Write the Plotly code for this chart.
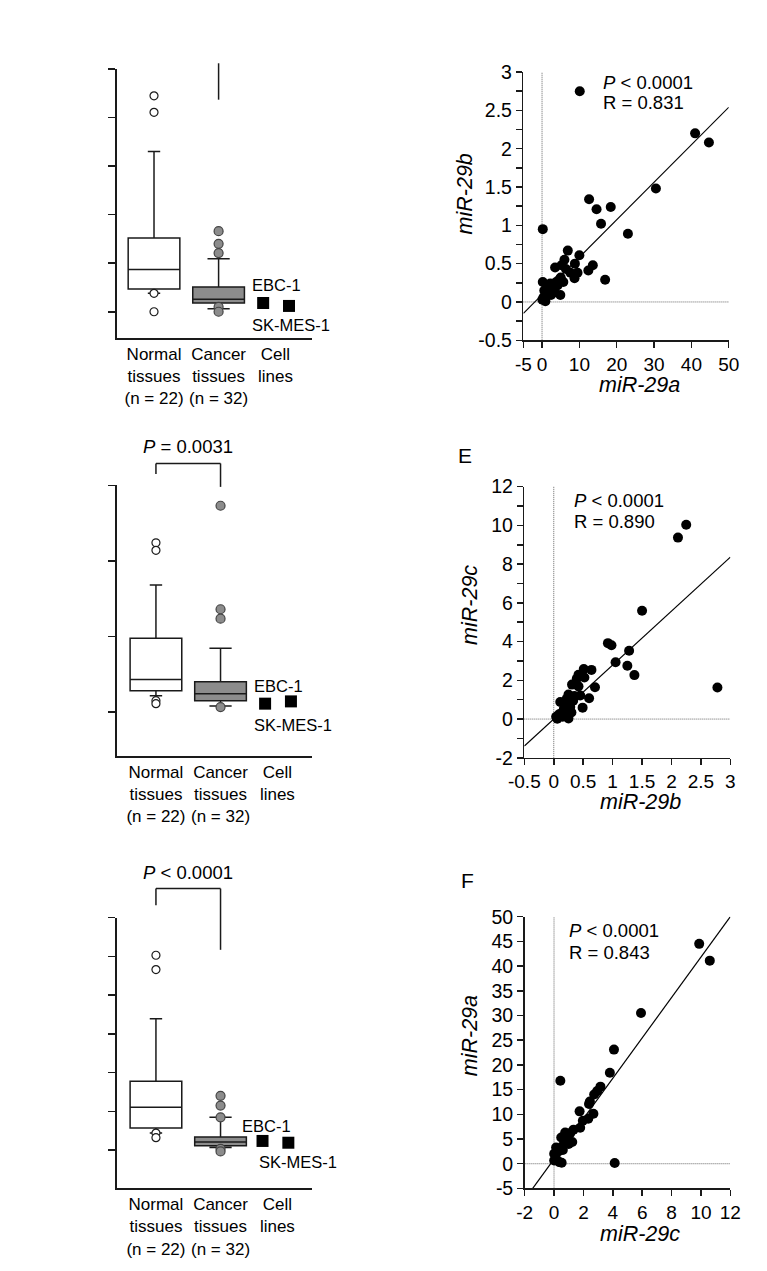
import plotly.graph_objects as go

# The page body keeps the browser's default 8px margin, so the figure is sized to fit.
PAGE_W, PAGE_H = 767, 1271
BODY_MARGIN = 8
W, H = PAGE_W - 2 * BODY_MARGIN, PAGE_H - 2 * BODY_MARGIN
FONT = "Liberation Sans, Arial, Helvetica, sans-serif"
INK = "#1a1a1a"
GRAY_FILL = "#8c8c8c"

# ---------------- Box-plot panels (left column) ----------------
categories = ["Normal<br>tissues<br>(n = 22)", "Cancer<br>tissues<br>(n = 32)", "Cell<br>lines"]
category_pos = [0, 1, 1.88]
cell_line_names = ["EBC-1", "SK-MES-1"]

# Panel A
a_normal = dict(q1=0.47, median=0.87, q3=1.52, lowerfence=0.38, upperfence=3.30)
a_normal_out = [4.45, 4.11, 0.38, 0.0]
a_cancer = dict(q1=0.18, median=0.26, q3=0.51, lowerfence=0.06, upperfence=1.09)
a_cancer_out = [1.66, 1.40, 1.21, 0.10, 0.0]
a_cell_x = [1.69, 2.09]
a_cell_y = [0.18, 0.12]
a_yticks = [0, 1, 2, 3, 4, 5]

# Panel B
b_normal = dict(q1=0.28, median=0.43, q3=0.975, lowerfence=0.216, upperfence=1.68)
b_normal_out = [2.24, 2.14, 0.15, 0.11]
b_cancer = dict(q1=0.15, median=0.24, q3=0.40, lowerfence=0.08, upperfence=0.845)
b_cancer_out = [2.73, 1.36, 1.235, 0.065]
b_cell_x = [1.69, 2.09]
b_cell_y = [0.11, 0.14]
b_yticks = [0, 1, 2, 3]
b_pvalue = "<i>P</i> = 0.0031"

# Panel C
c_normal = dict(q1=0.573, median=1.106, q3=1.775, lowerfence=0.44, upperfence=3.39)
c_normal_out = [5.03, 4.66, 0.44, 0.32]
c_cancer = dict(q1=0.109, median=0.21, q3=0.337, lowerfence=0.066, upperfence=0.845)
c_cancer_out = [1.40, 1.15, 0.845, 0.033, -0.035]
c_cell_x = [1.65, 2.05]
c_cell_y = [0.236, 0.19]
c_yticks = [0, 1, 2, 3, 4, 5, 6]
c_pvalue = "<i>P</i> < 0.0001"

# ---------------- Scatter panels (right column) ----------------
# D: miR-29a (x) vs miR-29b (y)
d_x = [10.1, 41.0, 44.7, 30.5, 12.6, 14.6, 18.4, 15.8, 23.0, 0.2,
       6.9, 10.0, 6.0, 8.8, 12.4, 13.6, 16.9, 3.5, 5.2, 6.4, 7.6, 8.7, 9.5,
       0.2, 2.0, 2.8, 3.8, 4.6, 5.7, 4.9, 3.0, 1.2, 0.4, 0.9, 0.1, 1.6, 2.4,
       3.4, 0.6, 1.0, 4.2, 2.2, 5.0]
d_y = [2.75, 2.20, 2.08, 1.48, 1.34, 1.21, 1.24, 1.02, 0.89, 0.95,
       0.67, 0.61, 0.55, 0.50, 0.41, 0.48, 0.29, 0.45, 0.48, 0.43, 0.38, 0.31, 0.38,
       0.26, 0.16, 0.21, 0.26, 0.29, 0.26, 0.09, 0.12, 0.13, 0.06, 0.01, 0.03, 0.19, 0.09,
       0.18, 0.15, 0.08, 0.22, 0.24, 0.32]
d_fit_x = [-5, 50]
d_fit_y = [-0.15, 2.54]
d_xticks = [-5, 0, 10, 20, 30, 40, 50]
d_yticks = [-0.5, 0, 0.5, 1, 1.5, 2, 2.5, 3]
d_stats = ["<i>P</i> < 0.0001", "R = 0.831"]

# E: miR-29b (x) vs miR-29c (y)
e_x = [2.25, 2.11, 1.50, 0.92, 0.98, 1.28, 1.05, 1.25, 1.37, 2.78, 0.70, 0.60,
       0.64, 0.51, 0.52, 0.42, 0.39, 0.31, 0.42, 0.45, 0.49, 0.35, 0.25, 0.22,
       0.11, 0.24, 0.30, 0.25, 0.17, 0.09, 0.04, 0.15, 0.20, 0.06, 0.28, 0.13,
       0.33, 0.18]
e_y = [10.03, 9.37, 5.59, 3.92, 3.81, 3.53, 2.93, 2.75, 2.27, 1.63, 1.64, 1.08,
       2.54, 2.58, 2.15, 2.29, 2.08, 1.78, 1.69, 1.22, 0.59, 1.19, 1.27, 1.05,
       0.88, 0.71, 0.34, 0.03, 0.51, 0.25, 0.12, 0.12, 0.34, 0.02, 0.62, 0.30,
       0.95, 0.80]
e_fit_x = [-0.5, 3]
e_fit_y = [-1.39, 8.36]
e_xticks = [-0.5, 0, 0.5, 1, 1.5, 2, 2.5, 3]
e_yticks = [-2, 0, 2, 4, 6, 8, 10, 12]
e_stats = ["<i>P</i> < 0.0001", "R = 0.890"]

# F: miR-29c (x) vs miR-29a (y)
f_x = [9.88, 10.6, 5.92, 4.08, 3.80, 0.43, 3.16, 2.94, 2.73, 2.44, 2.38, 1.74,
       2.68, 2.33, 1.96, 1.78, 1.33, 1.11, 1.24, 0.80, 0.49, 0.71, 0.14, 0.58,
       0.01, 0.14, 0.01, 0.36, 0.52, 4.13, 0.76, 0.91, 1.0, 0.3, 0.6]
f_y = [44.5, 41.1, 30.5, 23.1, 18.4, 16.8, 15.6, 14.7, 14.0, 12.6, 12.1, 10.6,
       10.1, 9.1, 8.7, 7.3, 6.9, 6.2, 4.4, 4.6, 5.3, 5.3, 3.3, 3.6,
       2.0, 1.0, 0.66, 0.33, 0.2, 0.13, 6.3, 5.6, 4.0, 2.5, 2.8]
f_fit_x = [-1.45, 12]
f_fit_y = [-5, 50]
f_xticks = [-2, 0, 2, 4, 6, 8, 10, 12]
f_yticks = [-5, 0, 5, 10, 15, 20, 25, 30, 35, 40, 45, 50]
f_stats = ["<i>P</i> < 0.0001", "R = 0.843"]


def fmt(v):
    return "%g" % v


def px_x(p):
    return (p - BODY_MARGIN) / W


def px_y(p):
    return 1 - (p - BODY_MARGIN) / H


# Layout geometry (page-pixel bounds of each plot area)
box_panels = [
    dict(ax="", dom_x=(104, 307), dom_y=(333, 59), xr=[-0.58, 2.45], yr=[-0.547, 5],
         normal=a_normal, nout=a_normal_out, cancer=a_cancer, cout=a_cancer_out,
         cx=a_cell_x, cy=a_cell_y, yt=a_yticks, lab=[(1.48, 0.55), (1.48, -0.28)],
         ncap=0.24, ccap=0.43),
    dict(ax="3", dom_x=(104, 307), dom_y=(758.3, 482.7), xr=[-0.61, 2.42], yr=[-0.585, 3],
         normal=b_normal, nout=b_normal_out, cancer=b_cancer, cout=b_cancer_out,
         cx=b_cell_x, cy=b_cell_y, yt=b_yticks, lab=[(1.49, 0.35), (1.49, -0.17)],
         ncap=0.24, ccap=0.43),
    dict(ax="5", dom_x=(104, 307), dom_y=(1198.3, 922.7), xr=[-0.61, 2.42], yr=[-0.99, 6],
         normal=c_normal, nout=c_normal_out, cancer=c_cancer, cout=c_cancer_out,
         cx=c_cell_x, cy=c_cell_y, yt=c_yticks, lab=[(1.30, 0.62), (1.57, -0.31)],
         ncap=0.24, ccap=0.43),
]

scatter_panels = [
    dict(ax="2", dom_x=(526, 739), dom_y=(335, 62), xr=[-5, 50], yr=[-0.5, 3],
         x=d_x, y=d_y, fx=d_fit_x, fy=d_fit_y, xt=d_xticks, yt=d_yticks, ydt=0.25,
         stats=d_stats, spos=[(15.9, 2.87), (15.9, 2.60)],
         xtitle="<i>miR-29a</i>", ytitle="<i>miR-29b</i>", xtp=(646, 381), ytp=(465, 186),
         letter=None),
    dict(ax="4", dom_x=(527, 740.7), dom_y=(760, 484), xr=[-0.5, 3], yr=[-2, 12],
         x=e_x, y=e_y, fx=e_fit_x, fy=e_fit_y, xt=e_xticks, yt=e_yticks, ydt=1,
         stats=e_stats, spos=[(0.31, 11.3), (0.31, 10.18)],
         xtitle="<i>miR-29b</i>", ytitle="<i>miR-29c</i>", xtp=(647, 805), ytp=(470, 604),
         letter=("E", 465, 452)),
    dict(ax="6", dom_x=(527.3, 740.7), dom_y=(1198.3, 921.7), xr=[-2, 12], yr=[-5, 50],
         x=f_x, y=f_y, fx=f_fit_x, fy=f_fit_y, xt=f_xticks, yt=f_yticks, ydt=None,
         stats=f_stats, spos=[(0.91, 47.2), (0.91, 42.7)],
         xtitle="<i>miR-29c</i>", ytitle="<i>miR-29a</i>", xtp=(647, 1245), ytp=(470, 1043),
         letter=("F", 468, 885)),
]

fig = go.Figure()
layout = dict(
    width=W, height=H, autosize=False,
    margin=dict(l=0, r=0, t=0, b=0, pad=0),
    paper_bgcolor="white", plot_bgcolor="white",
    font=dict(family=FONT, color="black", size=17),
    showlegend=False,
)
annotations = []
shapes = []

axis_common = dict(showgrid=False, zeroline=False, showline=True, linecolor=INK,
                   linewidth=1.5, tickcolor=INK, tickwidth=1.5, fixedrange=True)

for p in box_panels:
    xa = "x" + p["ax"]
    ya = "y" + p["ax"]
    dom_x = [px_x(p["dom_x"][0]), px_x(p["dom_x"][1])]
    dom_y = [px_y(p["dom_y"][0]), px_y(p["dom_y"][1])]
    layout["xaxis" + p["ax"]] = dict(
        axis_common, domain=dom_x, range=p["xr"], anchor=ya, ticks="",
        tickmode="array", tickvals=category_pos, ticktext=categories,
        tickfont=dict(size=17, family=FONT, color="black"))
    layout["yaxis" + p["ax"]] = dict(
        axis_common, domain=dom_y, range=p["yr"], anchor=xa, ticks="outside",
        ticklen=7, tickmode="array", tickvals=p["yt"], showticklabels=False)
    p["_dom_x"], p["_dom_y"] = dom_x, dom_y

    for pos, st, fill, cap in [(category_pos[0], p["normal"], "white", p["ncap"]),
                               (category_pos[1], p["cancer"], GRAY_FILL, p["ccap"])]:
        fig.add_trace(go.Box(
            x=[pos], q1=[st["q1"]], median=[st["median"]], q3=[st["q3"]],
            lowerfence=[st["lowerfence"]], upperfence=[st["upperfence"]],
            orientation="v", width=0.8, whiskerwidth=cap, fillcolor=fill,
            line=dict(color=INK, width=1.5), boxpoints=False,
            xaxis=xa, yaxis=ya, hoverinfo="skip"))
    fig.add_trace(go.Scatter(
        x=[category_pos[0]] * len(p["nout"]), y=p["nout"], mode="markers",
        marker=dict(symbol="circle", size=8, color="white", line=dict(color=INK, width=1.2)),
        xaxis=xa, yaxis=ya, cliponaxis=False, hoverinfo="skip"))
    fig.add_trace(go.Scatter(
        x=[category_pos[1]] * len(p["cout"]), y=p["cout"], mode="markers",
        marker=dict(symbol="circle", size=9, color=GRAY_FILL, line=dict(color="#444", width=1.2)),
        xaxis=xa, yaxis=ya, cliponaxis=False, hoverinfo="skip"))
    fig.add_trace(go.Scatter(
        x=p["cx"], y=p["cy"], mode="markers",
        marker=dict(symbol="square", size=12, color="black"),
        xaxis=xa, yaxis=ya, cliponaxis=False, hoverinfo="skip"))
    for name, (lx, ly) in zip(cell_line_names, p["lab"]):
        annotations.append(dict(text=name, x=lx, y=ly, xref=xa, yref=ya,
                                xanchor="left", yanchor="middle", showarrow=False,
                                font=dict(size=16.5, family=FONT, color="black")))


def to_paper(p, xv, yv):
    dx, dy = p["_dom_x"], p["_dom_y"]
    xr, yr = p["xr"], p["yr"]
    px = dx[0] + (xv - xr[0]) / (xr[1] - xr[0]) * (dx[1] - dx[0])
    py = dy[0] + (yv - yr[0]) / (yr[1] - yr[0]) * (dy[1] - dy[0])
    return px, py


def bracket_line(p, xa_, ya_, xb_, yb_):
    x0, y0 = to_paper(p, xa_, ya_)
    x1, y1 = to_paper(p, xb_, yb_)
    shapes.append(dict(type="line", xref="paper", yref="paper", x0=x0, y0=y0, x1=x1, y1=y1,
                       line=dict(color=INK, width=1.5)))


def pvalue_text(p, text, xv, yv):
    x0, y0 = to_paper(p, xv, yv)
    annotations.append(dict(text=text, x=x0, y=y0, xref="paper", yref="paper", showarrow=False,
                            xanchor="center", yanchor="middle",
                            font=dict(size=18.5, family=FONT, color="black")))


# Panel A: only the right leg of the (cropped) bracket is visible
bracket_line(box_panels[0], 1, 5.12, 1, 4.37)
# Panel B bracket
bracket_line(box_panels[1], 0, 3.29, 1, 3.29)
bracket_line(box_panels[1], 0, 3.29, 0, 3.15)
bracket_line(box_panels[1], 1, 3.29, 1, 2.98)
pvalue_text(box_panels[1], b_pvalue, 0.5, 3.51)
# Panel C bracket
bracket_line(box_panels[2], 0, 6.75, 1, 6.75)
bracket_line(box_panels[2], 0, 6.75, 0, 6.32)
bracket_line(box_panels[2], 1, 6.75, 1, 5.17)
pvalue_text(box_panels[2], c_pvalue, 0.5, 7.17)

for p in scatter_panels:
    xa = "x" + p["ax"]
    ya = "y" + p["ax"]
    dom_x = [px_x(p["dom_x"][0]), px_x(p["dom_x"][1])]
    dom_y = [px_y(p["dom_y"][0]), px_y(p["dom_y"][1])]
    xaxis = dict(axis_common, domain=dom_x, range=p["xr"], anchor=ya, ticks="outside",
                 ticklen=6, tickmode="array", tickvals=p["xt"],
                 ticktext=[fmt(v) for v in p["xt"]],
                 tickfont=dict(size=19, family=FONT, color="black"))
    yaxis = dict(axis_common, domain=dom_y, range=p["yr"], anchor=xa, ticks="outside",
                 ticklen=6, tickmode="array", tickvals=p["yt"],
                 ticktext=[fmt(v) for v in p["yt"]],
                 tickfont=dict(size=19.5, family=FONT, color="black"))
    if p["ydt"]:
        yaxis["minor"] = dict(tickmode="linear", tick0=0, dtick=p["ydt"], ticks="outside",
                              ticklen=6, tickwidth=1.5, tickcolor=INK, showgrid=False)
    layout["xaxis" + p["ax"]] = xaxis
    layout["yaxis" + p["ax"]] = yaxis

    # dotted reference lines at zero
    shapes.append(dict(type="line", xref=xa, yref=ya + " domain", x0=0, x1=0, y0=0, y1=1,
                       layer="below", line=dict(color="#666", width=1, dash="1px,1px")))
    shapes.append(dict(type="line", xref=xa + " domain", yref=ya, x0=0, x1=1, y0=0, y1=0,
                       layer="below", line=dict(color="#666", width=1, dash="1px,1px")))

    fig.add_trace(go.Scatter(x=p["fx"], y=p["fy"], mode="lines",
                             line=dict(color="black", width=1.2),
                             xaxis=xa, yaxis=ya, hoverinfo="skip"))
    fig.add_trace(go.Scatter(x=p["x"], y=p["y"], mode="markers",
                             marker=dict(symbol="circle", size=10, color="black"),
                             xaxis=xa, yaxis=ya, cliponaxis=False, hoverinfo="skip"))
    for txt, (sx, sy) in zip(p["stats"], p["spos"]):
        annotations.append(dict(text=txt, x=sx, y=sy, xref=xa, yref=ya, showarrow=False,
                                xanchor="left", yanchor="middle",
                                font=dict(size=18.5, family=FONT, color="black")))
    annotations.append(dict(text=p["xtitle"], x=px_x(p["xtp"][0]), y=px_y(p["xtp"][1]),
                            xref="paper", yref="paper", showarrow=False,
                            xanchor="center", yanchor="middle",
                            font=dict(size=21.5, family=FONT, color="black")))
    annotations.append(dict(text=p["ytitle"], x=px_x(p["ytp"][0]), y=px_y(p["ytp"][1]),
                            xref="paper", yref="paper", showarrow=False, textangle=-90,
                            xanchor="center", yanchor="middle",
                            font=dict(size=21.5, family=FONT, color="black")))
    if p["letter"]:
        t, lx, ly = p["letter"]
        annotations.append(dict(text=t, x=px_x(lx), y=px_y(ly), xref="paper", yref="paper",
                                showarrow=False, xanchor="center", yanchor="middle",
                                font=dict(size=21, family=FONT, color="black")))

layout["annotations"] = annotations
layout["shapes"] = shapes
fig.update_layout(**layout)

fig.write_html("out.html", config={"displayModeBar": False, "staticPlot": True})
